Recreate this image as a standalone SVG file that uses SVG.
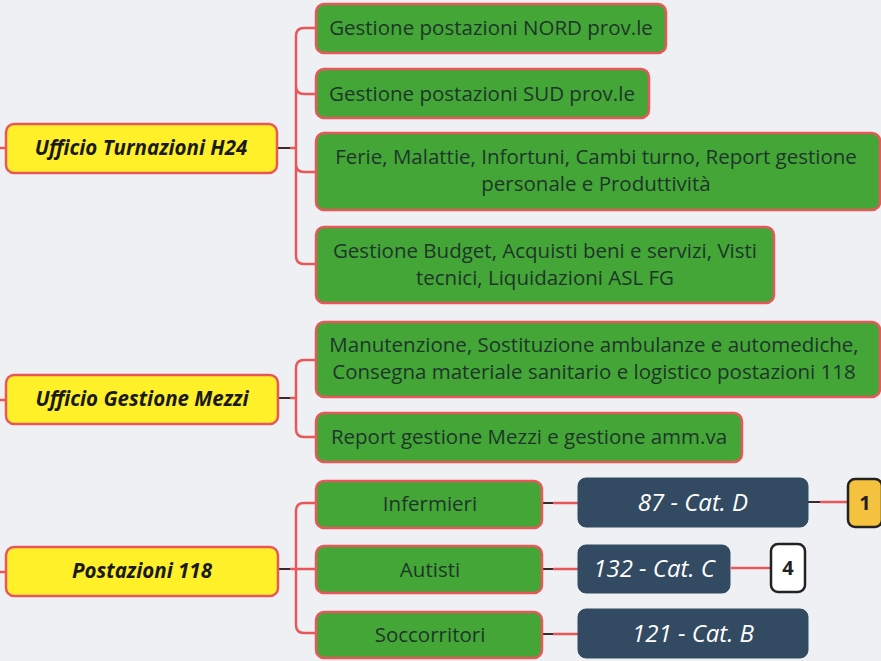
<svg xmlns="http://www.w3.org/2000/svg" width="881" height="661" viewBox="0 0 881 661">
<style>
.bg{fill:#eef0f3}
.y rect{fill:#fff02a;stroke:#e8575a;stroke-width:2.5}
.g rect{fill:#43a637;stroke:#e8575a;stroke-width:2.5}
.d rect{fill:#334a63;stroke:#334a63;stroke-width:1}
.yt{font-family:"Open Sans","Liberation Sans",sans-serif;font-size:20.5px;font-weight:bold;font-style:italic;fill:#1a1a1a;text-anchor:middle}
.gt{font-family:"Open Sans","Liberation Sans",sans-serif;font-size:20.5px;fill:#20352a;text-anchor:middle}
.dt{font-family:"Open Sans","Liberation Sans",sans-serif;font-size:24px;font-style:italic;fill:#ffffff;text-anchor:middle}
.bt{font-family:"Open Sans","Liberation Sans",sans-serif;font-size:20px;font-weight:bold;fill:#222;text-anchor:middle}
.c{fill:none;stroke:#e8575a;stroke-width:2.5}
.s{fill:none;stroke:#3a2a2a;stroke-width:2}
</style>
<rect class="bg" x="0" y="0" width="881" height="661"/>
<g id="connectors">
  <path class="c" d="M0,148 H6 M0,400 H6 M0,572 H6"/>
  <path class="s" d="M277,148 H290"/>
  <path class="c" d="M290,148 H296 M296,36 V256 M296,36 Q296,28 304,28 H316 M296,86 Q296,94 304,94 H316 M296,164 Q296,172 304,172 H316 M296,256 Q296,264 304,264 H316"/>
  <path class="s" d="M278,398 H290"/>
  <path class="c" d="M290,398 H296 M296,368 V429 M296,368 Q296,360 304,360 H316 M296,429 Q296,437 304,437 H316"/>
  <path class="s" d="M278,569 H290"/>
  <path class="c" d="M290,569 H316 M296,511 V625 M296,511 Q296,503 304,503 H316 M296,625 Q296,633 304,633 H316"/>
  <path class="s" d="M543,503 H553 M543,569 H553 M543,634 H553"/>
  <path class="c" d="M553,503 H578 M553,569 H578 M553,634 H578"/>
  <path class="s" d="M808,502 H820"/>
  <path class="c" d="M820,502 H848 M731,568 H771"/>
</g>
<g id="n-turnazioni" class="y"><rect x="6" y="124" width="271" height="49" rx="8"/><text class="yt" x="141" y="155">Ufficio Turnazioni H24</text></g>
<g id="n-mezzi" class="y"><rect x="6" y="375" width="272" height="49" rx="8"/><text class="yt" x="142" y="406">Ufficio Gestione Mezzi</text></g>
<g id="n-postazioni" class="y"><rect x="6" y="547" width="272" height="49" rx="8"/><text class="yt" x="142" y="578">Postazioni 118</text></g>

<g id="n-nord" class="g"><rect x="316" y="4" width="350" height="49" rx="8"/><text class="gt" x="491" y="35">Gestione postazioni NORD prov.le</text></g>
<g id="n-sud" class="g"><rect x="316" y="69" width="333" height="49" rx="8"/><text class="gt" x="482" y="101">Gestione postazioni SUD prov.le</text></g>
<g id="n-ferie" class="g"><rect x="316" y="133" width="564" height="77" rx="8"/><text class="gt" x="596" y="164">Ferie, Malattie, Infortuni, Cambi turno, Report gestione</text><text class="gt" x="596" y="191">personale e Produttività</text></g>
<g id="n-budget" class="g"><rect x="316" y="227" width="458" height="76" rx="8"/><text class="gt" x="545" y="258">Gestione Budget, Acquisti beni e servizi, Visti</text><text class="gt" x="545" y="285">tecnici, Liquidazioni ASL FG</text></g>

<g id="n-manutenzione" class="g"><rect x="316" y="322" width="564" height="75" rx="8"/><text class="gt" x="594" y="352">Manutenzione, Sostituzione ambulanze e automediche,</text><text class="gt" x="594" y="379">Consegna materiale sanitario e logistico postazioni 118</text></g>
<g id="n-report" class="g"><rect x="316" y="413" width="426" height="49" rx="8"/><text class="gt" x="529" y="444">Report gestione Mezzi e gestione amm.va</text></g>

<g id="n-infermieri" class="g"><rect x="316" y="481" width="226" height="47" rx="8"/><text class="gt" x="430" y="511">Infermieri</text></g>
<g id="n-autisti" class="g"><rect x="316" y="546" width="226" height="47" rx="8"/><text class="gt" x="430" y="577">Autisti</text></g>
<g id="n-soccorritori" class="g"><rect x="316" y="612" width="226" height="46" rx="8"/><text class="gt" x="430" y="642">Soccorritori</text></g>

<g id="n-catD" class="d"><rect x="578" y="478" width="230" height="49" rx="8"/><text class="dt" x="693" y="511">87 - Cat. D</text></g>
<g id="n-catC" class="d"><rect x="578" y="545" width="152" height="48" rx="8"/><text class="dt" x="654" y="577">132 - Cat. C</text></g>
<g id="n-catB" class="d"><rect x="578" y="609" width="230" height="49" rx="8"/><text class="dt" x="693" y="642">121 - Cat. B</text></g>

<g id="b-1"><rect x="848" y="479" width="34" height="48" rx="7" fill="#f5c240" stroke="#222" stroke-width="2.5"/><text class="bt" x="865" y="510">1</text></g>
<g id="b-4"><rect x="771" y="544" width="34" height="48" rx="7" fill="#ffffff" stroke="#222" stroke-width="2.5"/><text class="bt" x="788" y="575">4</text></g>
</svg>
